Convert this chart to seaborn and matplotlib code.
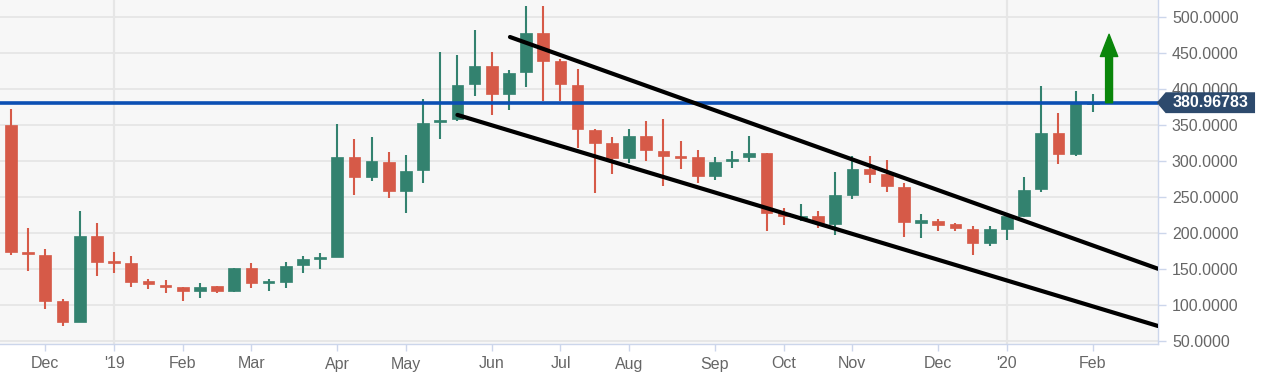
import numpy as np
import pandas as pd
import matplotlib
matplotlib.use("Agg")
import matplotlib.pyplot as plt
import matplotlib.transforms as mtransforms
from matplotlib.patches import Polygon
from matplotlib.ticker import FuncFormatter
import seaborn as sns

# ---------------- data ----------------
first_week = "2018-11-23"   # weekly candles (Friday stamps)
opens = [349.5, 173, 170, 106, 76, 196, 161, 158, 133, 128,
         124.5, 120, 126, 120, 152, 130.5, 132.4, 155, 164.5, 166.6,
         305.5, 278, 299, 258.8, 287.5, 354, 358, 406.5, 431.5, 393.5,
         424, 478, 439, 405, 343, 324.5, 304.6, 335.2, 314.3, 306,
         305, 279, 300.5, 305, 310.6, 228.2, 221, 223.6, 212.5, 252.8,
         289.3, 282, 264.3, 215, 216.7, 212, 205.5, 186, 205.5, 224,
         260.6, 339.3, 309.3, 380]
highs = [372, 207, 178, 108, 230, 214, 174, 168, 136, 134,
         125, 131, 127, 152, 158, 135.6, 160, 168, 172, 352,
         330, 334, 312, 309, 386.6, 451.4, 446.8, 482, 451.4, 426,
         515.7, 515.7, 442, 427.3, 345, 333, 345, 355.6, 358, 328,
         315.3, 305, 314, 334.7, 311.6, 234.2, 240, 230.5, 284.3, 307,
         307, 301.4, 269, 226, 219, 214.3, 210, 210, 226, 278.2,
         403.7, 366.2, 397, 393.5]
lows = [169.5, 147, 94, 71, 76, 140, 144, 125, 122, 116,
        105, 110, 116, 117.6, 123, 120, 123, 145, 150, 166,
        253, 272, 248.6, 228, 270, 330, 355, 390, 363.4, 370.4,
        402.3, 383.3, 383.3, 317.6, 255, 281.5, 296.7, 300.5, 265.3, 288.4,
        269, 273.6, 290.7, 298.6, 203.2, 211, 217, 207, 196.7, 247.2,
        270, 257, 195, 193, 202.8, 203.2, 169.4, 182, 190.3, 221.7,
        257, 296.3, 306.5, 367.6]
closes = [173, 171, 105, 76, 196, 160, 159, 132, 129, 125.5,
          120, 125.5, 120, 151.8, 130, 132.5, 154, 164.3, 166, 306,
          278, 299.5, 258.8, 286.6, 353.2, 356, 405, 431.5, 393.5, 422,
          478.2, 439.3, 406.5, 344, 325.5, 304.6, 335.2, 315.3, 307, 304.6,
          279, 299, 303.2, 311.6, 228.2, 224, 224, 214.3, 252.8, 289.3,
          282, 265.3, 214.8, 217, 211.6, 206.5, 186, 205.5, 223.6, 260.2,
          339.3, 309.7, 381, 382]

level = 380.96783
upper_channel_week = [29.06, 66.8]
upper_channel_value = [472.2, 150.3]
lower_channel_week = [26.0, 66.8]
lower_channel_value = [364.0, 70.8]
arrow_week = 63.95
arrow_value_from = level
arrow_value_to = 476.0
y_ticks = [50, 100, 150, 200, 250, 300, 350, 400, 450, 500]

# ---------------- frame ----------------
dates = pd.date_range(first_week, periods=len(opens), freq="7D")
df = pd.DataFrame({"date": dates, "open": opens, "high": highs,
                   "low": lows, "close": closes})
df["week"] = np.arange(len(df))
df["up"] = df["close"] >= df["open"]

# month ticks: first candle of each month
tick_pos, tick_lab = [], []
prev = None
for i, d in enumerate(df["date"]):
    key = (d.year, d.month)
    if key != prev and i > 0:
        tick_pos.append(i)
        tick_lab.append("'" + str(d.year)[2:] if d.month == 1 else d.strftime("%b"))
    prev = key
year_pos = [p for p, l in zip(tick_pos, tick_lab) if l.startswith("'")]

# ---------------- style ----------------
sns.set_theme(style="white")
plt.rcParams["font.family"] = ["Liberation Sans", "DejaVu Sans"]

GREEN = "#33826f"
RED = "#d65a48"
GRID = "#e6e6e6"
AXIS = "#ccd6eb"
LABEL = "#666666"

fig = plt.figure(figsize=(12.66, 3.83), dpi=100)
fig.patch.set_facecolor("white")
ax = fig.add_axes([0, 39 / 383, 1158 / 1266, 344 / 383])
ax.set_facecolor("#f7f7f7")

ax.set_xlim(-0.64, 66.8)
ax.set_ylim(45.8, 523.6)

# grid
for yv in y_ticks:
    ax.axhline(yv, color=GRID, lw=1.3, zorder=0)
for xv in year_pos:
    ax.axvline(xv, color=GRID, lw=1.6, zorder=0)

# candles
colors = np.where(df["up"], GREEN, RED)
ax.vlines(df["week"], df["low"], df["high"], colors=colors, lw=1.5, zorder=2)
body_low = np.minimum(df["open"], df["close"])
body_h = np.abs(df["close"] - df["open"])
min_h = 3.0
body_low = np.where(body_h < min_h, (df["open"] + df["close"]) / 2 - min_h / 2, body_low)
body_h = np.maximum(body_h, min_h)
ax.bar(df["week"], body_h, bottom=body_low, width=0.68, color=colors,
       edgecolor=colors, linewidth=0.5, zorder=3)

# horizontal level
ax.axhline(level, color="#0b4fb3", lw=2.6, zorder=4)

# channel lines
ch = pd.DataFrame({
    "week": upper_channel_week + lower_channel_week,
    "value": upper_channel_value + lower_channel_value,
    "line": ["upper", "upper", "lower", "lower"],
})
sns.lineplot(data=ch, x="week", y="value", units="line", estimator=None,
             color="black", lw=3.0, ax=ax, zorder=5, solid_capstyle="round")

# green arrow
ax.annotate("", xy=(arrow_week, arrow_value_to), xytext=(arrow_week, arrow_value_from),
            arrowprops=dict(arrowstyle="simple,head_width=1.25,head_length=1.6,tail_width=0.5",
                            color="#0a860a", shrinkA=0, shrinkB=0, mutation_scale=10),
            zorder=6)

# axes styling
for s in ["top", "left"]:
    ax.spines[s].set_visible(False)
for s in ["bottom", "right"]:
    ax.spines[s].set_color(AXIS)
    ax.spines[s].set_linewidth(1.0)

ax.yaxis.tick_right()
ax.set_yticks(y_ticks)
ax.yaxis.set_major_formatter(FuncFormatter(lambda v, p: f"{v:.4f}"))
ax.tick_params(axis="y", right=True, left=False, length=6, width=1, color=AXIS,
               labelcolor=LABEL, labelsize=11.5, pad=4)
ax.set_xticks(tick_pos)
ax.set_xticklabels(tick_lab)
ax.tick_params(axis="x", bottom=True, length=5, width=1, color=AXIS,
               labelcolor=LABEL, labelsize=11.5, pad=4)
ax.set_xlabel("")
ax.set_ylabel("")
ax.grid(False)

# price label box
tr = mtransforms.blended_transform_factory(ax.transAxes, ax.transData)
half = 14.5
poly = Polygon([(0.9989, level), (1.0066, level + half), (1.0838, level + half),
                (1.0838, level - half), (1.0066, level - half)],
               closed=True, transform=tr, facecolor="#2d4a6d", edgecolor="none",
               clip_on=False, zorder=10)
ax.add_patch(poly)
ax.text(1.0452, level, f"{level:.5f}", transform=tr, ha="center", va="center",
        color="white", fontsize=11.5, fontweight="bold", zorder=11, clip_on=False)

fig.savefig("out.png", dpi=100)
